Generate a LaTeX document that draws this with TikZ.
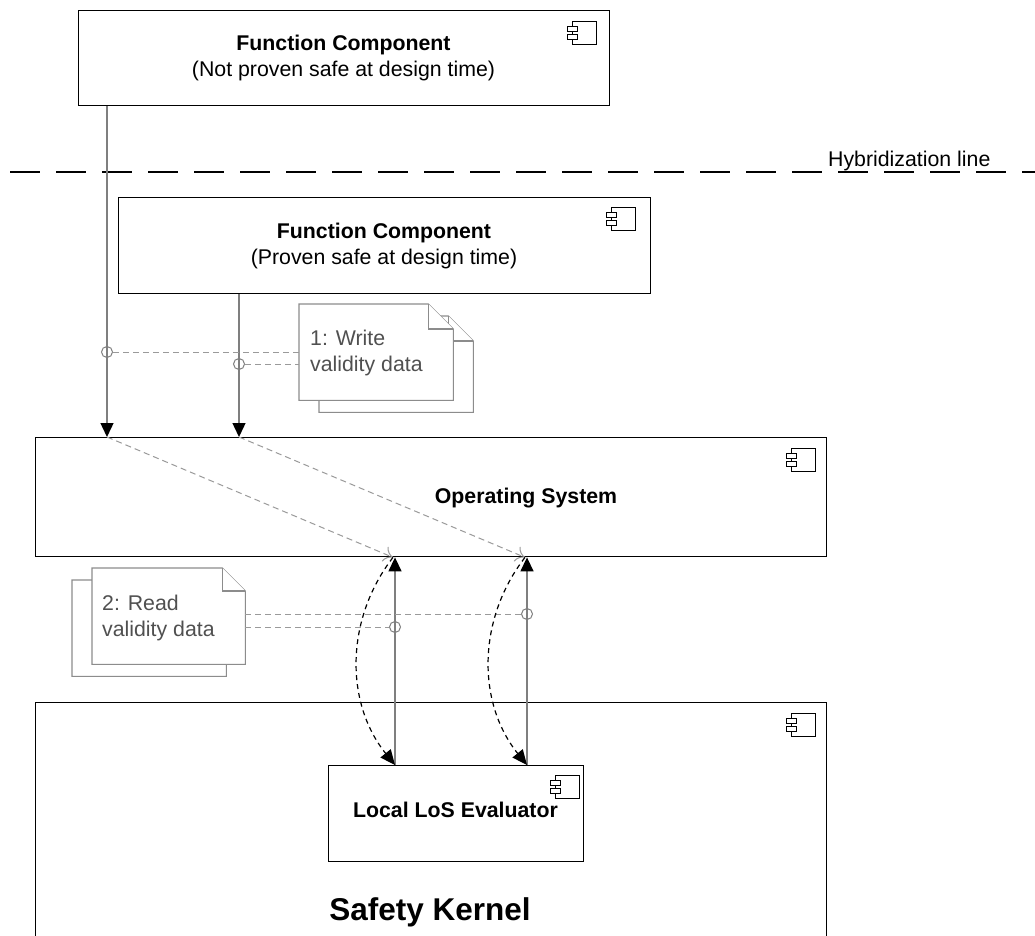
\documentclass[tikz,border=0pt]{standalone}
\usepackage{fontspec}
\setmainfont{Liberation Sans}
\usetikzlibrary{arrows.meta}
\definecolor{lineg}{HTML}{7F7F7F}
\definecolor{dashg}{HTML}{9A9A9A}
\definecolor{noteg}{HTML}{8C8C8C}
\definecolor{notetext}{HTML}{505050}
\tikzset{
  compbox/.style={draw=black, line width=1.4pt, fill=white, inner sep=0pt, anchor=north west},
  lbl/.style={anchor=base, inner sep=0pt, font=\fontsize{21.3}{25}\selectfont},
  blbl/.style={lbl, font=\fontsize{21.3}{25}\selectfont\bfseries},
  notebox/.style={inner sep=0pt, anchor=north west, minimum width=154pt, minimum height=96pt},
  notepath/.style={draw=noteg, line width=1.1pt, fill=white},
  notetxt/.style={anchor=base west, inner sep=0pt, text=notetext, font=\fontsize{21.3}{25}\selectfont},
  pin/.style={circle, draw=lineg, line width=1pt, minimum size=11pt, inner sep=0pt},
  sarrow/.style={draw=lineg, line width=1.4pt, -{Triangle[length=14pt,width=13pt,color=black]}},
  darrow/.style={draw=dashg, line width=1pt, dash pattern=on 6pt off 4pt, -{To[length=9pt,width=16pt]}},
  gline/.style={draw=dashg, line width=1pt, dash pattern=on 6pt off 4pt},
  cdash/.style={draw=black, line width=1.2pt, dash pattern=on 5pt off 4pt, -{Triangle[length=15pt,width=13pt]}},
  compicon/.pic={
    \draw[line width=1pt, fill=white] (0,0) rectangle (24,23);
    \draw[line width=1pt, fill=white] (-5,5) rectangle (5,10);
    \draw[line width=1pt, fill=white] (-5,13) rectangle (5,18);
  }
}
\begin{document}
\begin{tikzpicture}[x=1pt,y=-1pt]
\useasboundingbox (0,0) rectangle (1035,936);
\clip (0,0) rectangle (1035,936);

% hybridization line
\coordinate (hlA) at (10,172);
\coordinate (hlB) at (1040,172);
\draw[black, line width=1.5pt, dash pattern=on 30pt off 16pt] (hlA) -- (hlB);
\node[lbl, anchor=base west] (hlt) at (828,167) {Hybridization line};

% top component
\node[compbox, minimum width=531pt, minimum height=95pt] (fc1) at (78,10) {};
\pic at (572,22) {compicon};
\node[blbl] (fc1a) at (343.5,51) {Function Component};
\node[lbl] (fc1b) at (343.5,77) {(Not proven safe at design time)};

% second component
\node[compbox, minimum width=532pt, minimum height=96pt] (fc2) at (118,197) {};
\pic at (611,207) {compicon};
\node[blbl] (fc2a) at (384,238) {Function Component};
\node[lbl] (fc2b) at (384,264) {(Proven safe at design time)};

% operating system
\node[compbox, minimum width=791pt, minimum height=119pt] (os) at (35,437) {};
\pic at (791,448) {compicon};
\node[blbl] (ost) at (526,503) {Operating System};

% safety kernel
\node[compbox, minimum width=791pt, minimum height=260pt] (sk) at (35,702) {};
\pic at (791,713) {compicon};
\node[lbl, font=\fontsize{31.5}{36}\selectfont\bfseries] (skt) at (430,920) {Safety Kernel};

% local LoS evaluator
\node[compbox, line width=1.2pt, minimum width=255pt, minimum height=96pt] (lle) at (328,765) {};
\pic at (555,775) {compicon};
\node[blbl] (llet) at (455.5,817) {Local LoS Evaluator};

% note 1 (write)
\node[notebox] (n1b) at (319,316) {};
\node[notebox] (n1) at (299,304) {};
\draw[notepath] (n1b.north west) -- ([xshift=-25pt]n1b.north east) -- ([yshift=-25pt]n1b.north east) -- (n1b.south east) -- (n1b.south west) -- cycle;
\draw[notepath] ([xshift=-25pt]n1b.north east) -- ([xshift=-25pt,yshift=-25pt]n1b.north east) -- ([yshift=-25pt]n1b.north east);
\draw[notepath] (n1.north west) -- ([xshift=-25pt]n1.north east) -- ([yshift=-25pt]n1.north east) -- (n1.south east) -- (n1.south west) -- cycle;
\draw[notepath] ([xshift=-25pt]n1.north east) -- ([xshift=-25pt,yshift=-25pt]n1.north east) -- ([yshift=-25pt]n1.north east);
\node[notetxt] (n1t1) at (310,345) {1: Write};
\node[notetxt] (n1t2) at (310,371) {validity data};

% note 2 (read)
\node[notebox] (n2b) at (72,580) {};
\node[notebox, minimum width=153pt] (n2) at (92,568) {};
\draw[notepath] (n2b.north west) -- ([xshift=-23pt]n2b.north east) -- ([yshift=-23pt]n2b.north east) -- (n2b.south east) -- (n2b.south west) -- cycle;
\draw[notepath] (n2.north west) -- ([xshift=-23pt]n2.north east) -- ([yshift=-23pt]n2.north east) -- (n2.south east) -- (n2.south west) -- cycle;
\draw[notepath] ([xshift=-23pt]n2.north east) -- ([xshift=-23pt,yshift=-23pt]n2.north east) -- ([yshift=-23pt]n2.north east);
\node[notetxt] (n2t1) at (102,610) {2: Read};
\node[notetxt] (n2t2) at (102,636) {validity data};

% pins
\node[pin] (c1) at (107,352) {};
\node[pin] (c2) at (239,364) {};
\node[pin] (c3) at (395,627) {};
\node[pin] (c4) at (527,614) {};

% write arrows
\draw[sarrow] (fc1.south -| c1) -- (os.north -| c1);
\draw[sarrow] (fc2.south -| c2) -- (os.north -| c2);
\draw[gline] (c1.east) -- (c1 -| n1.west);
\draw[gline] (c2.east) -- (c2 -| n1.west);

% dashed data flow into OS
\coordinate (t3) at ([xshift=-2pt]os.south -| c3);
\coordinate (t4) at ([xshift=-2pt]os.south -| c4);
\draw[darrow] (os.north -| c1) -- (t3);
\draw[darrow] (os.north -| c2) -- (t4);

% read arrows
\draw[sarrow] (lle.north -| c3) -- (os.south -| c3);
\draw[sarrow] (lle.north -| c4) -- (os.south -| c4);
\draw[gline] (n2.east |- c4) -- (c4.west);
\draw[gline] (n2.east |- c3) -- (c3.west);

% curved dashed returns
\draw[cdash] (t3) .. controls +(-48,62) and +(-50,-62) .. (lle.north -| c3);
\draw[cdash] (t4) .. controls +(-48,62) and +(-50,-62) .. (lle.north -| c4);
\end{tikzpicture}
\end{document}
